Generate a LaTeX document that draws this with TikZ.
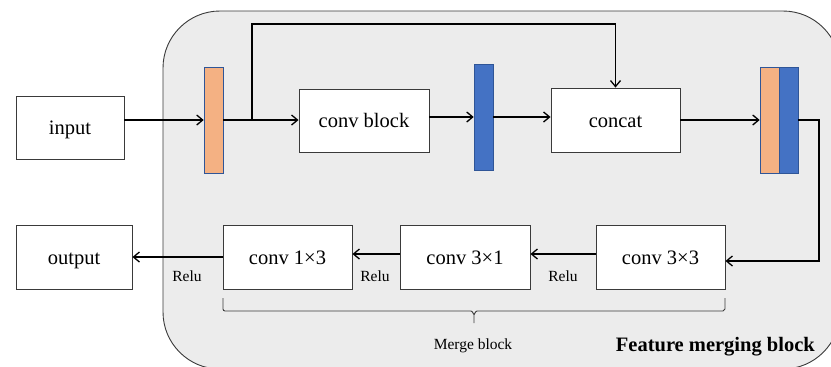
\documentclass[tikz,border=0pt]{standalone}
\usepackage{fontspec}
\setmainfont{Liberation Serif}
\usetikzlibrary{arrows.meta}
\definecolor{panelgray}{HTML}{ECECEC}
\definecolor{featorange}{HTML}{F4B183}
\definecolor{featblue}{HTML}{4472C4}
\definecolor{barborder}{HTML}{2F5597}
\definecolor{boxline}{HTML}{3A3A3A}
\tikzset{
  opbox/.style={draw=boxline, line width=0.9pt, fill=white, inner sep=0pt,
    text height=14.5pt, text depth=0pt,
    font=\fontsize{20.5}{24}\selectfont},
  featbar/.style={draw=barborder, line width=0.6pt, inner sep=0pt,
    minimum width=19pt, minimum height=106pt},
  arr/.style={draw=black, line width=1.3pt, -{Straight Barb[length=6pt,width=10pt,line width=1.3pt]}},
  smalltxt/.style={font=\fontsize{15.5}{18}\selectfont, inner sep=0pt},
}
\begin{document}
\begin{tikzpicture}[x=1pt, y=-1pt]
\useasboundingbox (0,0) rectangle (831,367);
% enclosing panel
\begin{scope}
\clip (0,0) rectangle (831,367);
\draw[draw=boxline, line width=0.9pt, fill=panelgray, rounded corners=57pt]
  (163,11) rectangle (840,369);
\end{scope}

% top row
\node[opbox, minimum width=108pt, minimum height=63pt] (input) at (70,127.5) {input};
\node[featbar, fill=featorange] (barA) at (213.5,120) {};
\node[opbox, minimum width=130pt, minimum height=63pt] (conv) at (364,120.5) {conv block};
\node[featbar, fill=featblue] (barB) at (483.5,117) {};
\node[opbox, minimum width=129pt, minimum height=64pt] (concat) at (615.5,120) {concat};
\node[featbar, fill=featorange] (barC) at (769.5,120) {};
\node[featbar, fill=featblue] (barD) at (788.5,120) {};

% bottom row
\node[opbox, minimum width=116pt, minimum height=64pt] (output) at (74,257) {output};
\node[opbox, minimum width=129pt, minimum height=64pt] (c13) at (287.5,257) {conv 1×3};
\node[opbox, minimum width=130pt, minimum height=64pt] (c31) at (465,257) {conv 3×1};
\node[opbox, minimum width=129pt, minimum height=64pt] (c33) at (660.5,257) {conv 3×3};

% top connectors
\draw[arr] (barA.west -| input.east) -- (barA.west);
\draw[arr] (barA.east) -- (barA.east -| conv.west);
\coordinate (split) at (252,120);
\coordinate (skipL) at (252,24);
\draw[arr] (split) -- (skipL) -- (skipL -| concat.north) -- (concat.north);
\draw[arr] (barB.west -| conv.east) -- (barB.west);
\draw[arr] (barB.east) -- (barB.east -| concat.west);
\draw[arr] (concat.east) -- (barC.west);
\coordinate (turn) at (819,120);
\draw[arr] (barD.east) -- (turn) -- ([yshift=-4pt]turn |- c33.east) -- ([yshift=-4pt]c33.east);

% bottom connectors
\draw[arr] ([yshift=3pt]c33.west) -- ([yshift=3pt]c31.east);
\draw[arr] ([yshift=3pt]c31.west) -- ([yshift=3pt]c13.east);
\draw[arr] (c13.west) -- (output.east);

\node[smalltxt] (r1) at (187,276) {Relu};
\node[smalltxt] (r2) at (375,276) {Relu};
\node[smalltxt] (r3) at (563,276) {Relu};

% brace under the merge convolutions
\draw[draw=boxline, line width=0.9pt]
  (223,298) -- (223,309) to[out=-90,in=180] (225,311) -- (471,311)
  to[out=0,in=-90] (474,314) -- (474,323);
\draw[draw=boxline, line width=0.9pt]
  (474,314) to[out=-90,in=180] (477,311) -- (723,311)
  to[out=0,in=90] (725,309) -- (725,298);

\node[smalltxt] (mlabel) at (473,346) {Merge block};
\node[anchor=east, inner sep=0pt, font=\fontsize{20.5}{24}\selectfont\bfseries] (flabel) at (815,347) {Feature merging block};
\end{tikzpicture}
\end{document}
